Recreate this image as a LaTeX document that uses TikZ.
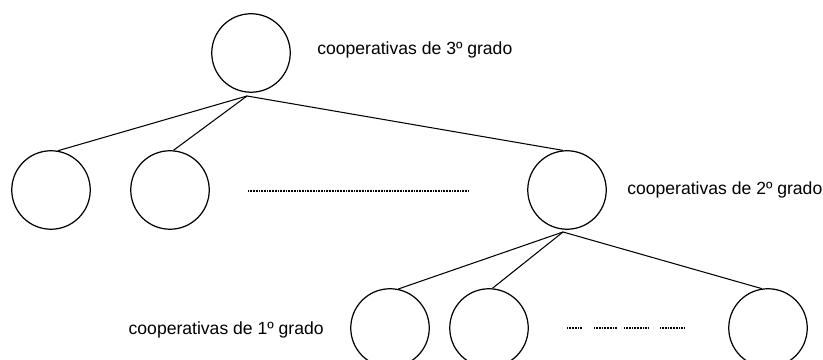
\documentclass[tikz,border=0pt]{standalone}
\usepackage{fontspec}
\setmainfont{Liberation Sans}
\usepackage{tikz}
\usetikzlibrary{shapes}
\tikzstyle{coop} = [draw=black, line width=0.7pt, circle, minimum size=1.57cm, inner sep=0pt]
\tikzstyle{link} = [line width=0.6pt]
\tikzstyle{etc} = [line width=0.6pt, dash pattern=on 0.5pt off 0.4pt]
\tikzstyle{tag} = [font=\fontsize{10}{12}\selectfont, inner sep=0pt]

\begin{document}
\begin{tikzpicture}
        % Bounding box
        \useasboundingbox (0,0) rectangle (16.46,7.2);

        % Nodes
        \node[coop] (g3)  at (5.02,6.14) {};
        \node[coop] (g2a) at (1.02,3.4)  {};
        \node[coop] (g2b) at (3.4,3.4)   {};
        \node[coop] (g2)  at (11.34,3.4) {};
        \node[coop] (g1a) at (7.8,0.64)  {};
        \node[coop] (g1b) at (9.78,0.64) {};
        \node[coop] (g1c) at (15.36,0.64) {};

        \coordinate (hub3) at (4.94,5.28);
        \coordinate (hub2) at (11.26,2.56);

        % Edges
        \draw[link] (hub3) -- (g2a.80);
        \draw[link] (hub3) -- (g2b.85);
        \draw[link] (hub3) -- (g2.96);
        \draw[link] (hub2) -- (g1a.78);
        \draw[link] (hub2) -- (g1b.85);
        \draw[link] (hub2) -- (g1c.99);

        % Dots
        \coordinate (dl) at (4.96,3.38);
        \coordinate (dr) at (9.36,3.38);
        \draw[etc] (dl) -- (dr);
        \draw[etc] (11.34,0.64) -- (11.64,0.64);
        \draw[etc] (11.88,0.64) -- (12.34,0.64);
        \draw[etc] (12.48,0.64) -- (12.96,0.64);
        \draw[etc] (13.2,0.64)  -- (13.68,0.64);

        % Labels
        \node[tag, anchor=west] (t3) at (6.34,6.2)  {cooperativas de 3º grado};
        \node[tag, anchor=west] (t2) at (12.54,3.4) {cooperativas de 2º grado};
        \node[tag, anchor=east] (t1) at (6.48,0.6)  {cooperativas de 1º grado};

    \end{tikzpicture}
\end{document}
